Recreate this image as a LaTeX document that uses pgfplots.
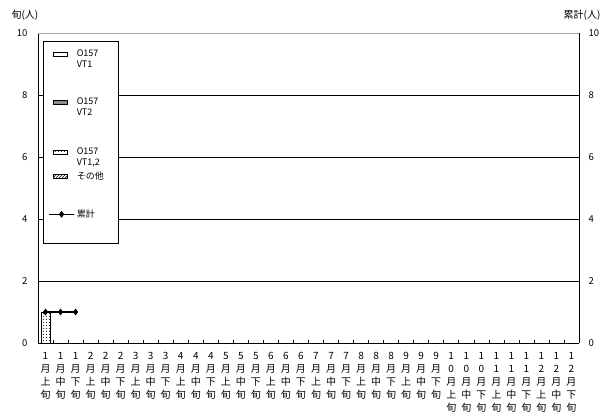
\documentclass[border=0pt]{standalone}
\usepackage{fontspec}
\setmainfont{Noto Sans CJK JP}
\usepackage{pgfplots}
\pgfplotsset{compat=1.18}
\usepackage{pgfplotstable}
\usetikzlibrary{patterns}
\pgfdeclarepatternformonly{sparsedots}{\pgfpoint{-1pt}{-1pt}}{\pgfpoint{4pt}{4pt}}{\pgfpoint{3pt}{3pt}}{\pgfpathcircle{\pgfpoint{1.5pt}{1.5pt}}{0.5pt}\pgfusepath{fill}}
\definecolor{vttwo}{HTML}{8C8890}
\pgfplotsset{
  barleg/.style={legend image code/.code={\draw[##1] (0pt,-2pt) rectangle (14pt,2pt);}},
  cumleg/.style={legend image code/.code={\draw[##1,mark repeat=2,mark phase=2] plot coordinates {(0pt,0pt)(8pt,0pt)(16pt,0pt)};}},
}

\pgfplotstableread{
x vt1 vt2 vt12 other
0 0 0 1 0
1 0 0 0 0
2 0 0 0 0
}\bars
\pgfplotstableread{
x cum
0 1
1 1
2 1
}\cum

\begin{document}
\begin{tikzpicture}[x=1pt,y=1pt]
\useasboundingbox (0,0) rectangle (614,420);
\pgfplotsset{
  every axis/.append style={
    at={(38pt,77pt)}, anchor=south west, scale only axis,
    width=541pt, height=310pt,
    xmin=-0.5, xmax=35.5, ymin=0, ymax=10,
    tick label style={font=\fontsize{9.5}{11}\selectfont},
    /pgf/number format/assume math mode=true,
  }
}
\begin{axis}[
  axis x line*=bottom, axis y line*=left,
  axis line style={black, line width=0.8pt},
  ybar stacked, bar width=9pt,
  ytick={2,4,6,8}, extra y ticks={0,10},
  extra y tick style={ymajorgrids=false},
  ymajorgrids, major grid style={black, line width=0.8pt},
  major tick length=0pt,
  yticklabel style={xshift=-7pt},
  xtick={0,...,35},
  xticklabels={
    {1\\月\\上\\旬},{1\\月\\中\\旬},{1\\月\\下\\旬},
    {2\\月\\上\\旬},{2\\月\\中\\旬},{2\\月\\下\\旬},
    {3\\月\\上\\旬},{3\\月\\中\\旬},{3\\月\\下\\旬},
    {4\\月\\上\\旬},{4\\月\\中\\旬},{4\\月\\下\\旬},
    {5\\月\\上\\旬},{5\\月\\中\\旬},{5\\月\\下\\旬},
    {6\\月\\上\\旬},{6\\月\\中\\旬},{6\\月\\下\\旬},
    {7\\月\\上\\旬},{7\\月\\中\\旬},{7\\月\\下\\旬},
    {8\\月\\上\\旬},{8\\月\\中\\旬},{8\\月\\下\\旬},
    {9\\月\\上\\旬},{9\\月\\中\\旬},{9\\月\\下\\旬},
    {1\\0\\月\\上\\旬},{1\\0\\月\\中\\旬},{1\\0\\月\\下\\旬},
    {1\\1\\月\\上\\旬},{1\\1\\月\\中\\旬},{1\\1\\月\\下\\旬},
    {1\\2\\月\\上\\旬},{1\\2\\月\\中\\旬},{1\\2\\月\\下\\旬}},
  xticklabel style={align=center, font=\fontsize{10}{13}\selectfont, yshift=-6pt},
  extra x ticks={-0.5,0.5,...,35.5},
  extra x tick labels={},
  extra x tick style={major tick length=3pt, tick style={black, line width=0.6pt}, xmajorgrids=false},
  legend style={at={(0.0092,0.974)}, anchor=north west, draw=black, line width=0.6pt, fill=white,
    font=\fontsize{9}{11}\selectfont, inner xsep=5pt, inner ysep=1pt, column sep=1pt,
    nodes={inner sep=1pt, text width=36pt, align=left}},
  legend cell align=left,
  clip=false,
]
\addplot+[ybar, draw=black, fill=white, line width=0.6pt, mark=none, barleg]
  table[x=x,y=vt1]{\bars};
\addlegendentry[minimum height=24pt]{O157\\VT1}
\addplot+[ybar, draw=black, fill=vttwo, line width=0.6pt, mark=none, barleg]
  table[x=x,y=vt2]{\bars};
\addlegendentry[minimum height=72pt]{O157\\VT2}
\addplot+[ybar, draw=black, pattern=sparsedots, pattern color=black, line width=0.6pt, mark=none, barleg]
  table[x=x,y=vt12]{\bars};
\addlegendentry[minimum height=28pt]{O157\\VT1,2}
\addplot+[ybar, draw=black, pattern=north east lines, pattern color=black, line width=0.6pt, mark=none, barleg]
  table[x=x,y=other]{\bars};
\addlegendentry[minimum height=20pt]{その他}
\addlegendimage{black, line width=1.5pt, mark=diamond*, mark size=3pt,
  mark options={fill=black, line width=0.5pt}, cumleg}
\addlegendentry[minimum height=56pt]{累計}
\end{axis}
\begin{axis}[
  axis x line*=top, axis y line*=right,
  x axis line style={gray!70, line width=0.6pt},
  y axis line style={black, line width=0.8pt},
  xtick=\empty, ytick={0,2,...,10},
  major tick length=0pt,
  yticklabel style={xshift=6pt},
  clip=false,
]
\addplot[sharp plot, black, line width=1.5pt, mark=diamond*, mark size=3pt,
  mark options={fill=black, line width=0.5pt}]
  table[x=x,y=cum]{\cum};
\end{axis}
\node[anchor=west, font=\fontsize{10}{12}\selectfont] at (8,405) {旬(人)};
\node[anchor=east, font=\fontsize{10}{12}\selectfont] at (604,405) {累計(人)};
\end{tikzpicture}
\end{document}
